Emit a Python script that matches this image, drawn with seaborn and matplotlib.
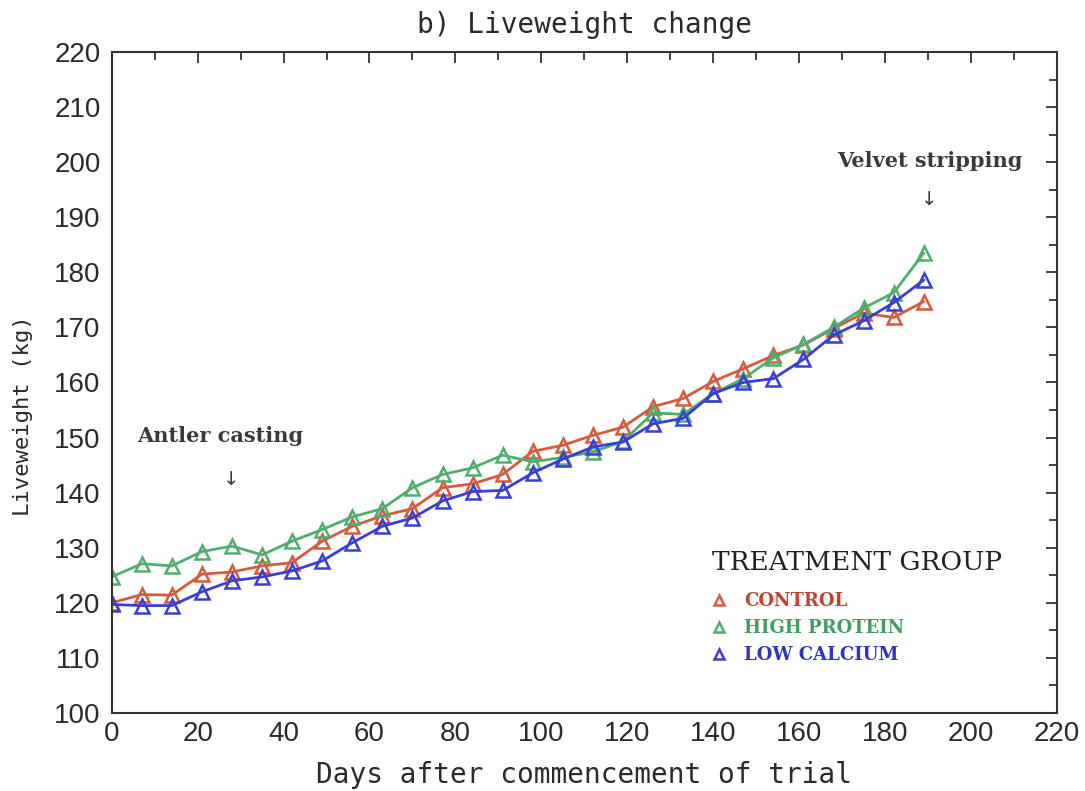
import matplotlib
matplotlib.use("Agg")
import matplotlib.pyplot as plt
from matplotlib.lines import Line2D
from matplotlib.ticker import MultipleLocator
import numpy as np
import pandas as pd
import seaborn as sns

# Weekly weighings (days after commencement of trial)
days = [0, 7, 14, 21, 28, 35, 42, 49, 56, 63, 70, 77, 84, 91,
        98, 105, 112, 119, 126, 133, 140, 147, 154, 161, 168, 175, 182, 189]

# Mean liveweight (kg) for each treatment group
control = [120.0, 121.5, 121.4, 125.2, 125.6, 126.7, 127.3, 131.2, 133.9, 135.8,
           137.1, 140.9, 141.6, 143.3, 147.5, 148.6, 150.4, 151.9, 155.6, 157.1,
           160.2, 162.5, 164.9, 166.8, 169.8, 172.6, 171.8, 174.7]
high_protein = [124.7, 127.1, 126.7, 129.3, 130.3, 128.7, 131.2, 133.3, 135.6, 137.1,
                140.9, 143.3, 144.5, 146.8, 145.6, 146.4, 147.4, 149.3, 154.5, 154.2,
                158.0, 160.7, 164.5, 166.9, 170.0, 173.5, 176.3, 183.5]
low_calcium = [119.7, 119.5, 119.5, 122.0, 124.0, 124.7, 125.8, 127.6, 130.9, 133.9,
               135.4, 138.5, 140.2, 140.4, 143.6, 146.1, 148.3, 149.2, 152.5, 153.5,
               158.0, 160.0, 160.7, 164.2, 168.6, 171.2, 174.5, 178.6]

groups = ["CONTROL", "HIGH PROTEIN", "LOW CALCIUM"]
line_colors = ["#d65a3c", "#4fae6e", "#3a3fd4"]
text_colors = ["#c2412f", "#3f9e62", "#2f33c8"]

x_ticks = list(range(0, 221, 20))
y_ticks = list(range(100, 221, 10))

df = pd.DataFrame({
    "day": days * 3,
    "weight": control + high_protein + low_calcium,
    "group": [g for g in groups for _ in days],
})

sns.set_theme(style="white")
plt.rcParams["font.family"] = ["DejaVu Sans"]

fig = plt.figure(figsize=(10.85, 7.91), dpi=100)
ax = fig.add_axes([0.1029, 0.0986, 0.8713, 0.8357])

palette = dict(zip(groups, line_colors))
sns.lineplot(data=df, x="day", y="weight", hue="group", palette=palette,
             marker="^", markersize=10, markerfacecolor="none",
             markeredgewidth=1.8, linewidth=2.0, legend=False, ax=ax)
for ln, c in zip(ax.get_lines(), line_colors):
    ln.set_markeredgecolor(c)

ax.set_xlim(0, 220)
ax.set_ylim(100, 220)
ax.set_xticks(x_ticks)
ax.set_yticks(y_ticks)
ax.xaxis.set_minor_locator(MultipleLocator(10))
ax.yaxis.set_minor_locator(MultipleLocator(5))
ax.tick_params(which="both", direction="in", top=True, right=True,
               colors="#333333", width=1.3)
ax.tick_params(which="major", length=8)
ax.tick_params(which="minor", length=6)
for lab in ax.get_xticklabels() + ax.get_yticklabels():
    lab.set_family("Liberation Sans")
    lab.set_fontsize(20)
    lab.set_color("#2a2a2a")
ax.tick_params(axis="x", pad=6)
ax.tick_params(axis="y", pad=8)
for sp in ax.spines.values():
    sp.set_color("#333333")
    sp.set_linewidth(1.5)

mono = "DejaVu Sans Mono"
ax.set_title("b) Liveweight change", family=mono, fontsize=20,
             color="#2a2a2a", pad=14)
ax.set_xlabel("Days after commencement of trial", family=mono, fontsize=20,
              color="#2a2a2a", labelpad=10)
ax.set_ylabel("Liveweight (kg)", family=mono, fontsize=16,
              color="#2a2a2a")
ax.yaxis.set_label_coords(-0.083, 0.45)

# Event annotations
ann = dict(family="DejaVu Serif", fontweight="bold", fontsize=15,
           color="#3a3a3a", ha="center", va="center")
ax.text(25.3, 150.2, "Antler casting", **ann)
ax.text(27.8, 142.3, "\u2193", family="DejaVu Sans", fontsize=14,
        color="#3a3a3a", ha="center", va="center")
ax.text(190.5, 200.2, "Velvet stripping", **ann)
ax.text(190.3, 193.3, "\u2193", family="DejaVu Sans", fontsize=14,
        color="#3a3a3a", ha="center", va="center")

# Treatment group key
ax.text(0.635, 0.227, "TREATMENT GROUP", transform=ax.transAxes,
        family="DejaVu Serif", fontsize=19, color="#222222",
        ha="left", va="center")
handles = [Line2D([], [], linestyle="none", marker="^", markersize=7,
                  markerfacecolor="none", markeredgewidth=1.8,
                  markeredgecolor=c) for c in line_colors]
leg = ax.legend(handles, groups, loc="upper left",
                bbox_to_anchor=(0.6268, 0.1936), frameon=False,
                prop={"family": "DejaVu Serif", "weight": "bold", "size": 13},
                handlelength=0.8, handletextpad=1.0, labelspacing=0.5,
                borderaxespad=0.0)
for t, c in zip(leg.get_texts(), text_colors):
    t.set_color(c)

fig.savefig("out.png", dpi=100, facecolor="white")
